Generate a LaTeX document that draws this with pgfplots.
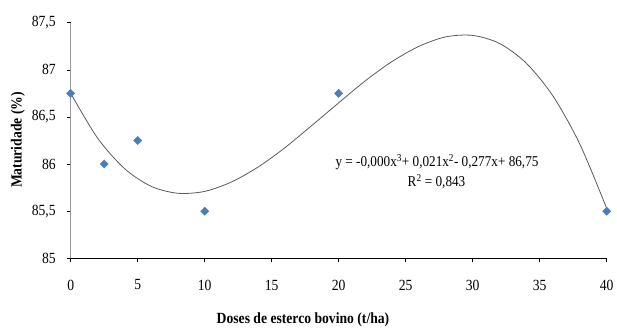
\documentclass[border=0pt]{standalone}
\usepackage{pgfplots}
\pgfplotsset{compat=1.18}
\usepackage{fontspec}
\setmainfont{Liberation Serif}
\definecolor{exblue}{HTML}{4A7EBB}
\definecolor{curvegray}{HTML}{5A5A5A}
\newcommand{\sq}[1]{\scalebox{0.88}[1]{#1}}
\begin{document}
\begin{tikzpicture}
\path[use as bounding box] (-70.7pt,-68.7pt) rectangle (546.3pt,258.3pt);
\begin{axis}[
  at={(0,0)}, anchor=south west,
  scale only axis, width=536pt, height=235.6pt,
  xmin=0, xmax=40, ymin=85, ymax=87.5,
  xtick={0,5,...,40}, ytick={85,85.5,...,87.5},
  axis x line=bottom, axis y line=left,
  axis line style={-},
  x axis line style={black, line width=0.9pt},
  y axis line style={gray!80, line width=1.2pt},
  tick align=outside, major tick length=4pt,
  tick style={black, line width=0.6pt},
  /pgf/number format/assume math mode=true,
  /pgf/number format/use comma,
  /pgf/number format/1000 sep={},
  ticklabel style={font=\fontsize{15.5}{17}\selectfont},
  xticklabel={\sq{\pgfmathprintnumber{\tick}}},
  yticklabel={\sq{\pgfmathprintnumber{\tick}}},
  xticklabel style={yshift=-14pt},
  yticklabel style={xshift=-7.5pt},
  xlabel={\sq{\textbf{Doses de esterco bovino (t/ha)}}},
  ylabel={\sq{\textbf{Maturidade (\%)}}},
  x label style={at={(axis description cs:0.4334,-0.2619)}, anchor=center, font=\fontsize{15.5}{17}\selectfont},
  y label style={at={(axis description cs:-0.0983,0.502)}, anchor=center, rotate=0, font=\fontsize{15.5}{17}\selectfont},
  clip=false,
]
\addplot[curvegray, line width=0.8pt, smooth, no markers] coordinates {
 (0,86.75) (2,86.277) (4,85.954) (6,85.764) (8,85.69) (10,85.71)
 (12,85.81) (14,85.97) (16,86.175) (18,86.41) (20,86.65) (22,86.885)
 (24,87.09) (26,87.25) (28,87.35) (30,87.365) (32,87.28) (34,87.07)
 (36,86.72) (38,86.21) (40,85.53)
};
\addplot[only marks, mark=square*, mark size=2.9pt, mark options={rotate=45, fill=exblue, draw=exblue}] coordinates {
 (0,86.75) (2.5,86) (5,86.25) (10,85.5) (20,86.75) (40,85.5)
};
\node[font=\fontsize{15}{17}\selectfont, anchor=center] at (axis description cs:0.6834,0.4087) {\sq{y = -0,000x\textsuperscript{3}+ 0,021x\textsuperscript{2}- 0,277x+ 86,75}};
\node[font=\fontsize{15}{17}\selectfont, anchor=center] at (axis description cs:0.6825,0.3239) {\sq{R\textsuperscript{2} = 0,843}};
\end{axis}
\end{tikzpicture}
\end{document}
